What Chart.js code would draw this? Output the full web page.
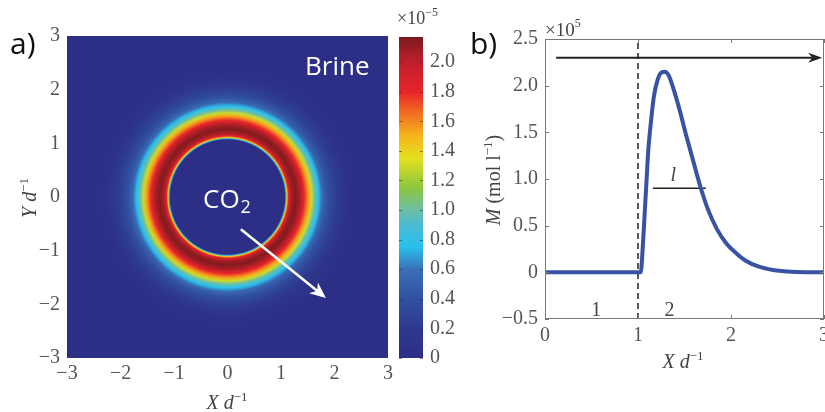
<!DOCTYPE html>
<html>
<head>
<meta charset="utf-8">
<script src="https://cdn.jsdelivr.net/npm/chart.js@4.4.1/dist/chart.umd.min.js"></script>
<style>
  html, body { margin: 0; padding: 0; background: #fff; }
  #wrap { position: relative; width: 825px; height: 412px; }
  canvas { position: absolute; left: 0; top: 0; }
</style>
</head>
<body>
<div id="wrap">
  <canvas id="chartA" width="825" height="412"></canvas>
  <canvas id="chartC" width="825" height="412"></canvas>
  <canvas id="chartB" width="825" height="412"></canvas>
</div>
<script>
// panel a: radial concentration profile (x1e-5)
let ringR = [0, 1.07, 1.09, 1.11, 1.14, 1.19, 1.27, 1.35, 1.43, 1.51, 1.57, 1.63, 1.70, 1.77, 1.87, 1.99, 2.12, 2.27, 2.45];
let ringC = [0, 0, 0.7, 1.4, 1.8, 2.05, 2.15, 2.05, 1.8, 1.55, 1.3, 1.0, 0.75, 0.55, 0.4, 0.26, 0.14, 0.05, 0];

// colour bar (x1e-5)
let cbarVals = [0, 0.2, 0.4, 0.6, 0.75, 0.9, 1.0, 1.15, 1.35, 1.5, 1.65, 1.8, 2.0, 2.17];
let cbarColors = ['#2c2f85', '#2e3a8f', '#3150a1', '#3b70b8', '#28c0ee', '#4cbad3', '#6cbfa6', '#8dc63f',
                  '#e4e01f', '#f6b51c', '#f27022', '#e8242a', '#c01f2a', '#7a1a1e'];
let cbarMax = 2.17;

// panel b: M (x1e5) against X/d
let bX = [0, 0.5, 1.0, 1.03, 1.05, 1.07, 1.09, 1.11, 1.14, 1.17, 1.21, 1.25, 1.29, 1.33, 1.38, 1.45,
          1.52, 1.60, 1.67, 1.75, 1.85, 1.95, 2.05, 2.15, 2.30, 2.45, 2.60, 2.80, 3.0];
let bM = [0, 0, 0, 0, 0.25, 0.6, 0.95, 1.3, 1.62, 1.88, 2.06, 2.14, 2.15, 2.11, 1.97, 1.73,
          1.46, 1.17, 0.92, 0.68, 0.46, 0.31, 0.21, 0.13, 0.06, 0.025, 0.008, 0, 0];

let frontX = 1;       // dashed line
let lSeg = [1.16, 1.73, 0.9];   // x from, x to, y
let flowArrowB = [0.12, 2.98, 2.3];
let arrowA = [0.25, -0.6, 1.84, -1.88];

Chart.defaults.font.family = '"Liberation Serif", serif';
Chart.defaults.font.size = 20;
Chart.defaults.color = '#555';

const SERIF = '"Liberation Serif", serif';
const SANS = '"Open Sans", sans-serif';

function minus(s) { return String(s).replace('-', '\u2212'); }

function hexRgb(h) {
  return [parseInt(h.slice(1, 3), 16), parseInt(h.slice(3, 5), 16), parseInt(h.slice(5, 7), 16)];
}
function colorFor(v) {
  if (v <= cbarVals[0]) return cbarColors[0];
  for (let i = 1; i < cbarVals.length; i++) {
    if (v <= cbarVals[i]) {
      let t = (v - cbarVals[i - 1]) / (cbarVals[i] - cbarVals[i - 1]);
      let a = hexRgb(cbarColors[i - 1]), b = hexRgb(cbarColors[i]);
      return 'rgb(' + a.map((c, k) => Math.round(c + (b[k] - c) * t)).join(',') + ')';
    }
  }
  return cbarColors[cbarColors.length - 1];
}

function rich(ctx, parts, x, y, align, rot) {
  ctx.save();
  ctx.translate(x, y);
  if (rot) ctx.rotate(rot);
  let w = 0;
  parts.forEach(p => { ctx.font = p.f; w += ctx.measureText(p.t).width; });
  let px = align === 'center' ? -w / 2 : 0;
  ctx.textAlign = 'left';
  ctx.textBaseline = 'alphabetic';
  parts.forEach(p => {
    ctx.font = p.f;
    ctx.fillStyle = p.c || '#444';
    ctx.fillText(p.t, px, p.dy || 0);
    px += ctx.measureText(p.t).width;
  });
  ctx.restore();
}

function arrowHead(ctx, x0, y0, x1, y1, len, half, color) {
  let a = Math.atan2(y1 - y0, x1 - x0);
  ctx.save();
  ctx.translate(x1, y1);
  ctx.rotate(a);
  ctx.fillStyle = color;
  ctx.beginPath();
  ctx.moveTo(0, 0);
  ctx.lineTo(-len, -half);
  ctx.lineTo(-len * 0.7, 0);
  ctx.lineTo(-len, half);
  ctx.closePath();
  ctx.fill();
  ctx.restore();
}

function fixBox(w, h) {
  return function (scale) {
    if (w !== undefined) scale.width = w;
    if (h !== undefined) scale.height = h;
    scale.paddingLeft = 0; scale.paddingRight = 0;
    scale.paddingTop = 0; scale.paddingBottom = 0;
  };
}

const noGrid = { display: false, drawTicks: false };

// ---------- panel a ----------
const xdTitle = [
  { t: 'X', f: 'italic 20px ' + SERIF },
  { t: ' d', f: 'italic 20px ' + SERIF },
  { t: '\u22121', f: '13px ' + SERIF, dy: -8 }
];

const mapPlugin = {
  id: 'mapA',
  beforeDatasetsDraw(chart) {
    const ctx = chart.ctx, ca = chart.chartArea;
    const xs = chart.scales.x, ys = chart.scales.y;
    ctx.save();
    ctx.fillStyle = colorFor(0);
    ctx.fillRect(ca.left, ca.top, ca.right - ca.left, ca.bottom - ca.top);
    ctx.beginPath();
    ctx.rect(ca.left, ca.top, ca.right - ca.left, ca.bottom - ca.top);
    ctx.clip();
    const cx = xs.getPixelForValue(0), cy = ys.getPixelForValue(0);
    const rMax = ringR[ringR.length - 1];
    const rpx = xs.getPixelForValue(rMax) - cx;
    const g = ctx.createRadialGradient(cx, cy, 0, cx, cy, rpx);
    ringR.forEach((r, i) => g.addColorStop(r / rMax, colorFor(ringC[i])));
    ctx.fillStyle = g;
    ctx.beginPath();
    ctx.arc(cx, cy, rpx, 0, Math.PI * 2);
    ctx.fill();

    // arrow
    const x0 = xs.getPixelForValue(arrowA[0]), y0 = ys.getPixelForValue(arrowA[1]);
    const x1 = xs.getPixelForValue(arrowA[2]), y1 = ys.getPixelForValue(arrowA[3]);
    ctx.strokeStyle = '#fff';
    ctx.lineWidth = 2.5;
    ctx.beginPath();
    ctx.moveTo(x0, y0);
    ctx.lineTo(x1 - (x1 - x0) * 0.06, y1 - (y1 - y0) * 0.06);
    ctx.stroke();
    arrowHead(ctx, x0, y0, x1, y1, 16, 7, '#fff');

    ctx.fillStyle = '#fff';
    ctx.font = '26px ' + SANS;
    ctx.textBaseline = 'alphabetic';
    ctx.fillText('Brine', 305, 75);
    ctx.font = '26px ' + SANS;
    ctx.fillText('CO', 203, 208);
    let w = ctx.measureText('CO').width;
    ctx.font = '18px ' + SANS;
    ctx.fillText('2', 203 + w + 1, 213);
    ctx.restore();
  },
  afterDraw(chart) {
    const ctx = chart.ctx;
    ctx.save();
    ctx.fillStyle = '#111';
    ctx.font = '30px ' + SANS;
    ctx.fillText('a)', 10, 54);
    ctx.restore();
    rich(ctx, xdTitle, 227, 409, 'center');
    rich(ctx, [
      { t: 'Y', f: 'italic 20px ' + SERIF },
      { t: ' d', f: 'italic 20px ' + SERIF },
      { t: '\u22121', f: '13px ' + SERIF, dy: -8 }
    ], 36, 198, 'center', -Math.PI / 2);
  }
};

new Chart(document.getElementById('chartA'), {
  type: 'scatter',
  data: { datasets: [] },
  options: {
    responsive: false,
    animation: false,
    layout: { padding: { left: 0, right: 437, top: 36, bottom: 0 } },
    plugins: { legend: { display: false }, tooltip: { enabled: false } },
    scales: {
      x: {
        type: 'linear', min: -3, max: 3,
        grid: noGrid,
        border: { display: false },
        ticks: { stepSize: 1, padding: 4, maxRotation: 0, callback: v => minus(v) },
        afterFit: fixBox(undefined, 54)
      },
      y: {
        type: 'linear', min: -3, max: 3,
        grid: noGrid,
        border: { display: false },
        ticks: { stepSize: 1, padding: 7, callback: v => minus(v) },
        afterFit: fixBox(67, undefined)
      }
    }
  },
  plugins: [mapPlugin]
});

// ---------- colour bar ----------
const cbarPlugin = {
  id: 'cbar',
  afterDraw(chart) {
    const ctx = chart.ctx, ca = chart.chartArea, ys = chart.scales.y;
    ctx.save();
    ctx.strokeStyle = 'rgba(40,40,40,0.55)';
    ctx.lineWidth = 1;
    ys.ticks.forEach(t => {
      const y = Math.round(ys.getPixelForValue(t.value)) + 0.5;
      ctx.beginPath();
      ctx.moveTo(ca.left, y); ctx.lineTo(ca.left + 3, y);
      ctx.moveTo(ca.right, y); ctx.lineTo(ca.right - 3, y);
      ctx.stroke();
    });
    ctx.restore();
    rich(ctx, [
      { t: '\u00d710', f: '18px ' + SERIF },
      { t: '\u22125', f: '12px ' + SERIF, dy: -8 }
    ], 397, 24, 'left');
  }
};

new Chart(document.getElementById('chartC'), {
  type: 'bar',
  data: {
    labels: ['c'],
    datasets: [{
      data: [cbarMax],
      barPercentage: 1,
      categoryPercentage: 1,
      backgroundColor(c) {
        const chart = c.chart, ys = chart.scales.y;
        if (!ys || !chart.chartArea) return cbarColors[0];
        const y0 = ys.getPixelForValue(0), y1 = ys.getPixelForValue(cbarMax);
        if (!isFinite(y0) || !isFinite(y1)) return cbarColors[0];
        const g = chart.ctx.createLinearGradient(0, y0, 0, y1);
        cbarVals.forEach((v, i) => g.addColorStop(v / cbarMax, cbarColors[i]));
        return g;
      }
    }]
  },
  options: {
    responsive: false,
    animation: false,
    layout: { padding: { left: 399, right: 362, top: 37, bottom: 54 } },
    plugins: { legend: { display: false }, tooltip: { enabled: false } },
    scales: {
      x: { display: false },
      y: {
        position: 'right',
        min: 0, max: cbarMax,
        grid: noGrid,
        border: { display: false },
        ticks: { stepSize: 0.2, includeBounds: false, padding: 7, callback: v => v === 0 ? '0' : v.toFixed(1) },
        afterFit: fixBox(40, undefined)
      }
    }
  },
  plugins: [cbarPlugin]
});

// ---------- panel b ----------
const bPlugin = {
  id: 'panelB',
  afterDraw(chart) {
    const ctx = chart.ctx, ca = chart.chartArea;
    const xs = chart.scales.x, ys = chart.scales.y;
    ctx.save();
    ctx.strokeStyle = '#777';
    ctx.lineWidth = 1;
    ctx.strokeRect(ca.left + 0.5, ca.top + 0.5, ca.right - ca.left - 1, ca.bottom - ca.top - 1);
    ctx.beginPath();
    xs.ticks.forEach(t => {
      const x = Math.round(xs.getPixelForValue(t.value)) + 0.5;
      ctx.moveTo(x, ca.bottom); ctx.lineTo(x, ca.bottom - 4);
      ctx.moveTo(x, ca.top); ctx.lineTo(x, ca.top + 4);
    });
    ys.ticks.forEach(t => {
      const y = Math.round(ys.getPixelForValue(t.value)) + 0.5;
      ctx.moveTo(ca.left, y); ctx.lineTo(ca.left + 4, y);
      ctx.moveTo(ca.right, y); ctx.lineTo(ca.right - 4, y);
    });
    ctx.stroke();

    // flow arrow head
    const ax0 = xs.getPixelForValue(flowArrowB[0]), ax1 = xs.getPixelForValue(flowArrowB[1]);
    const ay = ys.getPixelForValue(flowArrowB[2]);
    arrowHead(ctx, ax0, ay, ax1, ay, 14, 5, '#222');

    ctx.fillStyle = '#444';
    ctx.font = '20px ' + SERIF;
    ctx.textAlign = 'center';
    ctx.textBaseline = 'alphabetic';
    ctx.fillText('1', xs.getPixelForValue(0.55), ys.getPixelForValue(-0.47));
    ctx.fillText('2', xs.getPixelForValue(1.34), ys.getPixelForValue(-0.47));
    ctx.font = 'italic 20px ' + SERIF;
    ctx.fillText('l', xs.getPixelForValue(1.38), ys.getPixelForValue(0.98));

    ctx.fillStyle = '#111';
    ctx.textAlign = 'left';
    ctx.font = '30px ' + SANS;
    ctx.fillText('b)', 470, 54);
    ctx.restore();

    rich(ctx, [
      { t: '\u00d710', f: '19px ' + SERIF },
      { t: '5', f: '12px ' + SERIF, dy: -9 }
    ], 545, 36, 'left');
    rich(ctx, xdTitle, 683, 368, 'center');
    rich(ctx, [
      { t: 'M', f: 'italic 20px ' + SERIF },
      { t: ' (mol l', f: '20px ' + SERIF },
      { t: '\u22121', f: '13px ' + SERIF, dy: -8 },
      { t: ')', f: '20px ' + SERIF }
    ], 500, 180, 'center', -Math.PI / 2);
  }
};

new Chart(document.getElementById('chartB'), {
  type: 'scatter',
  data: {
    datasets: [
      {
        data: bX.map((x, i) => ({ x: x, y: bM[i] })),
        showLine: true,
        borderColor: '#3953a4',
        borderWidth: 4,
        pointRadius: 0,
        cubicInterpolationMode: 'monotone'
      },
      {
        data: [{ x: frontX, y: -0.5 }, { x: frontX, y: 2.5 }],
        showLine: true,
        borderColor: '#222',
        borderWidth: 1.5,
        borderDash: [6, 4],
        pointRadius: 0
      },
      {
        data: [{ x: lSeg[0], y: lSeg[2] }, { x: lSeg[1], y: lSeg[2] }],
        showLine: true,
        borderColor: '#222',
        borderWidth: 1.5,
        pointRadius: 0
      },
      {
        data: [{ x: flowArrowB[0], y: flowArrowB[2] }, { x: flowArrowB[1] - 0.05, y: flowArrowB[2] }],
        showLine: true,
        borderColor: '#222',
        borderWidth: 2,
        pointRadius: 0
      }
    ]
  },
  options: {
    responsive: false,
    animation: false,
    layout: { padding: { left: 485, right: 1, top: 39, bottom: 0 } },
    plugins: { legend: { display: false }, tooltip: { enabled: false } },
    scales: {
      x: {
        type: 'linear', min: 0, max: 3,
        grid: noGrid,
        border: { display: false },
        ticks: { stepSize: 1, padding: 5, maxRotation: 0 },
        afterFit: fixBox(undefined, 93)
      },
      y: {
        type: 'linear', min: -0.5, max: 2.5,
        grid: noGrid,
        border: { display: false },
        ticks: { stepSize: 0.5, padding: 7, callback: v => v === 0 ? '0' : minus(v.toFixed(1)) },
        afterFit: fixBox(60, undefined)
      }
    }
  },
  plugins: [bPlugin]
});
</script>
</body>
</html>
